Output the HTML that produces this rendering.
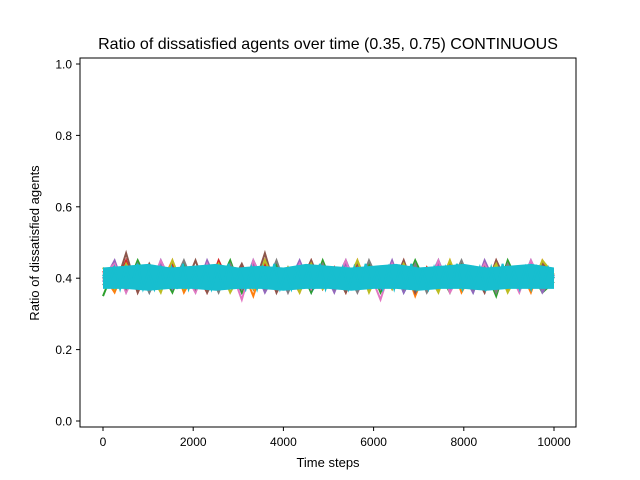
<!DOCTYPE html>
<html><head><meta charset="utf-8"><style>
body{margin:0;background:#fff;}
svg{display:block;font-family:"Liberation Sans","DejaVu Sans",sans-serif;}
</style></head><body>
<svg id="chart" width="640" height="480">
<rect width="640" height="480" fill="#fff"/>
<text x="328" y="49" font-size="16" text-anchor="middle">Ratio of dissatisfied agents over time (0.35, 0.75) CONTINUOUS</text>
<g id="plot"></g>
<rect x="80" y="58" width="496" height="369" fill="none" stroke="#000" stroke-width="1"/>
<g id="xt"></g>
<g id="yt"></g>
<text x="328" y="467" font-size="13" text-anchor="middle">Time steps</text>
<text transform="translate(39,243) rotate(-90)" font-size="13" text-anchor="middle">Ratio of dissatisfied agents</text>
</svg>
<script>
const xTicks=[0,2000,4000,6000,8000,10000];
const yTicks=[0.0,0.2,0.4,0.6,0.8,1.0];
const colors=["#1f77b4","#ff7f0e","#2ca02c","#d62728","#9467bd","#8c564b","#e377c2","#7f7f7f","#bcbd22","#17becf"];
const s0=[0.40,0.44,0.37,0.43,0.36,0.45,0.38,0.42,0.37,0.44,0.39,0.43,0.36,0.45,0.38,0.43,0.37,0.44,0.36,0.42,0.38,0.45,0.37,0.43,0.39,0.44,0.36,0.42,0.38,0.45,0.37,0.43,0.36,0.44,0.38,0.42,0.37,0.45,0.38,0.41];
const s1=[0.41,0.36,0.44,0.37,0.43,0.38,0.45,0.36,0.42,0.37,0.44,0.38,0.43,0.35,0.45,0.37,0.42,0.36,0.44,0.38,0.43,0.36,0.45,0.37,0.42,0.38,0.44,0.35,0.43,0.37,0.45,0.36,0.42,0.38,0.44,0.37,0.43,0.36,0.45,0.40];
const s2=[0.35,0.43,0.37,0.45,0.38,0.42,0.36,0.44,0.37,0.43,0.38,0.45,0.36,0.42,0.37,0.44,0.38,0.43,0.36,0.45,0.37,0.42,0.38,0.44,0.36,0.43,0.37,0.45,0.38,0.42,0.36,0.44,0.37,0.43,0.35,0.45,0.38,0.42,0.36,0.39];
const s3=[0.42,0.37,0.45,0.36,0.43,0.38,0.44,0.37,0.42,0.36,0.45,0.38,0.43,0.37,0.44,0.36,0.42,0.38,0.45,0.37,0.43,0.36,0.44,0.38,0.42,0.37,0.45,0.36,0.43,0.38,0.44,0.37,0.42,0.36,0.45,0.38,0.43,0.37,0.44,0.40];
const s4=[0.39,0.45,0.36,0.43,0.38,0.44,0.37,0.42,0.36,0.45,0.38,0.43,0.37,0.44,0.36,0.42,0.38,0.45,0.37,0.43,0.36,0.44,0.38,0.42,0.37,0.45,0.36,0.43,0.38,0.44,0.37,0.42,0.36,0.45,0.38,0.43,0.37,0.44,0.36,0.41];
const s5=[0.40,0.37,0.47,0.36,0.44,0.38,0.43,0.37,0.45,0.36,0.42,0.38,0.44,0.37,0.47,0.36,0.43,0.38,0.45,0.37,0.42,0.36,0.44,0.38,0.43,0.37,0.45,0.36,0.42,0.38,0.44,0.37,0.43,0.36,0.45,0.38,0.42,0.37,0.44,0.40];
const s6=[0.41,0.44,0.36,0.43,0.37,0.45,0.38,0.42,0.36,0.44,0.37,0.43,0.34,0.45,0.38,0.42,0.36,0.44,0.37,0.43,0.38,0.45,0.36,0.42,0.34,0.44,0.38,0.43,0.37,0.45,0.36,0.42,0.38,0.44,0.37,0.43,0.36,0.45,0.38,0.40];
const s7=[0.38,0.43,0.37,0.44,0.36,0.42,0.38,0.45,0.37,0.43,0.36,0.44,0.38,0.42,0.37,0.45,0.36,0.43,0.38,0.44,0.37,0.42,0.36,0.45,0.38,0.43,0.37,0.44,0.36,0.42,0.38,0.45,0.37,0.43,0.36,0.44,0.38,0.42,0.37,0.39];
const s8=[0.43,0.37,0.44,0.38,0.42,0.36,0.45,0.37,0.43,0.38,0.44,0.36,0.42,0.37,0.45,0.38,0.43,0.36,0.44,0.37,0.42,0.38,0.45,0.36,0.43,0.37,0.44,0.38,0.42,0.36,0.45,0.37,0.43,0.38,0.44,0.36,0.42,0.37,0.45,0.41];
const s9=[0.41,0.38,0.43,0.37,0.43,0.38,0.44,0.37,0.42,0.37,0.43,0.38,0.43,0.37,0.44,0.37,0.42,0.38,0.43,0.37,0.43,0.37,0.44,0.38,0.42,0.37,0.43,0.37,0.43,0.38,0.44,0.37,0.42,0.37,0.43,0.38,0.43,0.37,0.44,0.37,0.42,0.38,0.43,0.37,0.43,0.37,0.44,0.38,0.42,0.37,0.43,0.37,0.43,0.38,0.44,0.37,0.42,0.37,0.43,0.38,0.43,0.37,0.44,0.37,0.42,0.38,0.43,0.37,0.43,0.37,0.44,0.38,0.42,0.37,0.43,0.37,0.43,0.38,0.43,0.40];
// envelope of the last (cyan) series
const s9Upper=[0.43,0.435,0.44,0.43,0.435,0.44,0.43,0.435,0.43,0.44,0.435,0.43,0.435,0.44,0.43,0.435,0.44,0.43,0.435,0.44,0.43];
const s9Lower=[0.37,0.37,0.365,0.37,0.37,0.365,0.37,0.37,0.365,0.37,0.37,0.365,0.37,0.37,0.365,0.37,0.37,0.365,0.37,0.37,0.37];
const series=[s0,s1,s2,s3,s4,s5,s6,s7,s8,s9];
const xMax=10000;
const NS="http://www.w3.org/2000/svg";
function xs(v){return 103+(v/10000)*451;}
function ys(v){return 421-v*357;}
const plot=document.getElementById('plot');
series.forEach((s,k)=>{
  if(k===9){
    const a=document.createElementNS(NS,'polygon');
    const up=s9Upper.map((v,i)=>xs(i*xMax/(s9Upper.length-1)).toFixed(1)+','+ys(v).toFixed(1));
    const lo=s9Lower.map((v,i)=>xs(i*xMax/(s9Lower.length-1)).toFixed(1)+','+ys(v).toFixed(1)).reverse();
    a.setAttribute('points',up.concat(lo).join(' '));
    a.setAttribute('fill',colors[9]);
    
    
    plot.appendChild(a);
  }
  const p=document.createElementNS(NS,'polyline');
  const pts=s.map((v,i)=>xs(i*xMax/(s.length-1)).toFixed(1)+','+ys(v).toFixed(1)).join(' ');
  p.setAttribute('points',pts);
  p.setAttribute('fill','none');
  p.setAttribute('stroke',colors[k]);
  p.setAttribute('stroke-width','2');
  
  
  plot.appendChild(p);
});
const xt=document.getElementById('xt');
xTicks.forEach(t=>{
  const g=document.createElementNS(NS,'g');
  
  
  const x=xs(t);
  g.innerHTML=`<line x1="${x}" x2="${x}" y1="427" y2="431" stroke="#000"/><text x="${x}" y="446" font-size="12" text-anchor="middle">${t}</text>`;
  xt.appendChild(g);
});
const yt=document.getElementById('yt');
yTicks.forEach(t=>{
  const g=document.createElementNS(NS,'g');
  
  
  const y=ys(t);
  g.innerHTML=`<line x1="76" x2="80" y1="${y}" y2="${y}" stroke="#000"/><text x="72" y="${y+4.5}" font-size="12" text-anchor="end">${t.toFixed(1)}</text>`;
  yt.appendChild(g);
});
</script>
</body></html>
